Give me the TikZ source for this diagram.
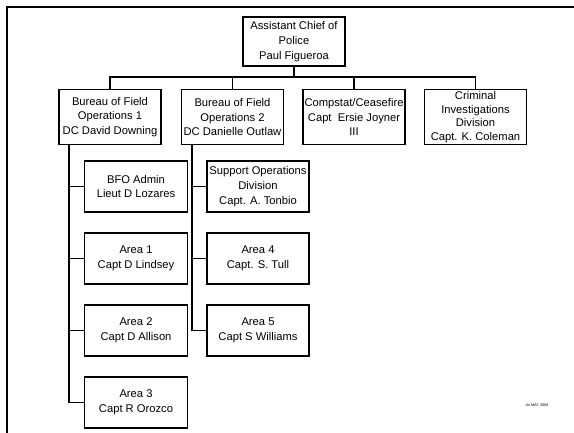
\documentclass[tikz,border=0pt]{standalone}
\usepackage{fontspec}
\setmainfont{Liberation Sans}
\begin{document}
\begin{tikzpicture}[x=1pt,y=-1pt,
  box/.style={draw,line width=1.3pt,align=center,inner sep=0pt,
    font=\fontsize{11.2}{14.8}\selectfont},
  wide/.style={box,minimum width=102pt},
  kid/.style={box,minimum width=103pt,minimum height=51pt},
  link/.style={line width=1.2pt}]
\useasboundingbox (0,0) rectangle (574,433);
\draw[line width=2.6pt] (7,433) -- (7,7) -- (574,7);

\node[wide,minimum height=49pt] (top) at (294,41.5) {Assistant Chief of\\Police\\Paul Figueroa};
\node[wide,minimum height=55pt] (b1) at (110,117) {Bureau of Field\\Operations 1\\DC David Downing};
\node[wide,minimum height=55pt] (b2) at (232.5,117) {Bureau of Field\\Operations 2\\DC Danielle Outlaw};
\node[wide,minimum height=55pt] (cs) at (354,117) {Compstat/Ceasefire\\Capt\ \ Ersie Joyner\\III};
\node[wide,minimum height=55pt,font=\fontsize{11.2}{13.6}\selectfont] (cid) at (475.5,117) {Criminal\\Investigations\\Division\\Capt. K. Coleman};

\node[kid] (adm) at (136,186.5) {BFO Admin\\Lieut D Lozares};
\node[kid] (a1) at (136,258.5) {Area 1\\Capt D Lindsey};
\node[kid] (a2) at (136,330.5) {Area 2\\Capt D Allison};
\node[kid] (a3) at (136,402.5) {Area 3\\Capt R Orozco};

\node[kid,minimum width=102pt] (sup) at (258,186.5) {Support Operations\\Division\\Capt. A. Tonbio};
\node[kid,minimum width=102pt] (a4) at (258,258.5) {Area 4\\Capt. S. Tull};
\node[kid,minimum width=102pt] (a5) at (258,330.5) {Area 5\\Capt S Williams};

\node[font=\fontsize{3.8}{4}\selectfont,inner sep=0pt] (rev) at (537,405) {As MAY 2008};

\coordinate (bus) at (294,77);
\draw[link] (top.south) -- (bus);
\foreach \n in {b1,b2,cs,cid} \draw[link] (\n.north) |- (bus);

\coordinate (s1) at (69,144.5);
\coordinate (s2) at (192,144.5);
\foreach \n in {adm,a1,a2,a3} \draw[link] (s1) |- (\n.west);
\foreach \n in {sup,a4,a5} \draw[link] (s2) |- (\n.west);
\end{tikzpicture}
\end{document}
